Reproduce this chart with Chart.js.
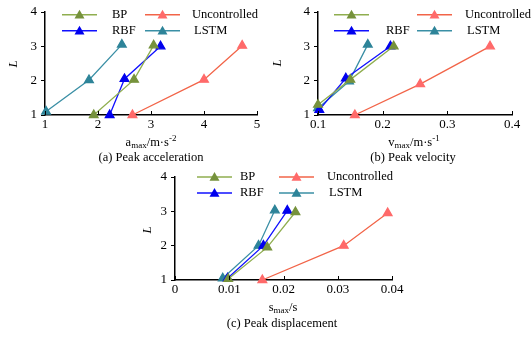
<!DOCTYPE html>
<html>
<head>
<meta charset="utf-8">
<script src="https://cdn.jsdelivr.net/npm/chart.js@4.4.1/dist/chart.umd.min.js"></script>
<style>
  html,body{margin:0;padding:0;background:#fff;}
  body{width:531px;height:337px;position:relative;overflow:hidden;font-family:'Liberation Serif','Times New Roman',serif;color:#000;}
  canvas{position:absolute;}
  .lbl{position:absolute;font-size:12.5px;white-space:nowrap;transform:translate(-50%,-50%);line-height:1;}
  .lbl sub{font-size:9px;vertical-align:-2px;}
  .lbl sup{font-size:9px;vertical-align:5px;}
  .ytitle{position:absolute;font-size:13px;font-style:italic;transform:translate(-50%,-50%) rotate(-90deg);}
</style>
</head>
<body>
<canvas id="accChart" style="left:0;top:0" width="265" height="140"></canvas>
<canvas id="velChart" style="left:265px;top:0" width="266" height="140"></canvas>
<canvas id="dispChart" style="left:130px;top:165px" width="282" height="140"></canvas>

<div class="ytitle" style="left:13px;top:64px">L</div>
<div class="ytitle" style="left:277px;top:63px">L</div>
<div class="ytitle" style="left:147px;top:230px">L</div>

<div class="lbl" style="left:151px;top:142px">a<sub>max</sub>/m·s<sup>-2</sup></div>
<div class="lbl" style="left:151px;top:157px">(a) Peak acceleration</div>
<div class="lbl" style="left:414px;top:142px">v<sub>max</sub>/m·s<sup>-1</sup></div>
<div class="lbl" style="left:413px;top:157px">(b) Peak velocity</div>
<div class="lbl" style="left:283px;top:308px">s<sub>max</sub>/s</div>
<div class="lbl" style="left:282px;top:323px">(c) Peak displacement</div>

<script>
// series names, legend text per chart (BP label is missing in panel b)
const SERIES = ['BP', 'RBF', 'Uncontrolled', 'LSTM'];
const LEGEND_B = ['', 'RBF', 'Uncontrolled', 'LSTM'];
const L_TICKS = [1, 2, 3, 4];

// (a) peak acceleration [a_max, L]
const accBP   = [[1.92, 1.0], [2.68, 2.03], [3.05, 3.03]];
const accRBF  = [[2.22, 1.0], [2.50, 2.05], [3.18, 3.0]];
const accUnc  = [[2.65, 1.0], [4.00, 2.03], [4.72, 3.02]];
const accLSTM = [[1.02, 1.1], [1.83, 2.02], [2.45, 3.05]];

// (b) peak velocity [v_max, L]
const velBP   = [[0.100, 1.3], [0.150, 2.03], [0.217, 3.0]];
const velRBF  = [[0.102, 1.15], [0.143, 2.07], [0.212, 3.0]];
const velUnc  = [[0.157, 1.0], [0.258, 1.9], [0.366, 3.0]];
const velLSTM = [[0.100, 1.2], [0.148, 1.98], [0.177, 3.05]];

// (c) peak displacement [s_max, L]
const dispBP   = [[0.0098, 1.03], [0.0170, 1.95], [0.0222, 2.98]];
const dispRBF  = [[0.0097, 1.05], [0.0163, 2.0], [0.0207, 3.02]];
const dispUnc  = [[0.0161, 1.0], [0.0311, 2.0], [0.0392, 2.95]];
const dispLSTM = [[0.0088, 1.05], [0.0154, 2.0], [0.0184, 3.03]];

const STYLE = {
  BP:           {line: '#8fae4f', point: '#76923c'},
  RBF:          {line: '#1010ff', point: '#0000ee'},
  Uncontrolled: {line: '#f26448', point: '#ff6a6a'},
  LSTM:         {line: '#3a8fa5', point: '#2e8499'},
};
const FAMILY = "'Liberation Serif','Times New Roman',serif";
const TICK_FONT = {family: FAMILY, size: 13};
const LEGEND_SIZE = 12.5;

function makeDatasets(groups){
  return groups.map((pts, i) => {
    const s = STYLE[SERIES[i]];
    return {
      label: SERIES[i],
      data: pts.map(([x, y]) => ({x, y})),
      borderColor: s.line, backgroundColor: s.point,
      pointBackgroundColor: s.point, pointBorderColor: s.point,
      pointStyle: 'triangle', pointRadius: 5, borderWidth: 1.3,
      tension: 0, clip: false,
    };
  });
}

// legend drawn by hand: line + triangle + text
const handLegend = {
  id: 'handLegend',
  afterDraw(chart, args, opts){
    const ctx = chart.ctx;
    ctx.save();
    chart.data.datasets.forEach((ds, i) => {
      const p = opts.pos[i];
      ctx.strokeStyle = ds.borderColor; ctx.lineWidth = 1.5;
      ctx.beginPath(); ctx.moveTo(p.lx, p.y); ctx.lineTo(p.lx + 35, p.y); ctx.stroke();
      const cx = p.lx + 17.5, r = 5;
      ctx.fillStyle = ds.pointBackgroundColor;
      ctx.beginPath();
      ctx.moveTo(cx, p.y - r); ctx.lineTo(cx + r, p.y + r * 0.75); ctx.lineTo(cx - r, p.y + r * 0.75);
      ctx.closePath(); ctx.fill();
      ctx.fillStyle = '#000';
      ctx.font = `${LEGEND_SIZE}px ${FAMILY}`;
      ctx.textBaseline = 'middle'; ctx.textAlign = 'left';
      ctx.fillText(opts.labels[i], p.tx, p.y);
    });
    ctx.restore();
  }
};

// small inward tick marks on the x axis
const xTicksUp = {
  id: 'xTicksUp',
  afterDraw(chart){
    const sc = chart.scales.x, ctx = chart.ctx, b = chart.chartArea.bottom;
    ctx.save();
    ctx.strokeStyle = '#000'; ctx.lineWidth = 1;
    sc.ticks.forEach((t, i) => {
      const x = Math.round(sc.getPixelForTick(i)) + 0.5;
      ctx.beginPath(); ctx.moveTo(x, b); ctx.lineTo(x, b - 4); ctx.stroke();
    });
    ctx.restore();
  }
};

function makeChart(id, groups, xr, pad, legendPos, legendLabels){
  return new Chart(document.getElementById(id), {
    type: 'line',
    data: {datasets: makeDatasets(groups)},
    options: {
      responsive: false, animation: false,
      layout: {padding: pad},
      plugins: {
        legend: {display: false}, tooltip: {enabled: false},
        handLegend: {pos: legendPos, labels: legendLabels},
      },
      scales: {
        x: {
          type: 'linear', min: xr.min, max: xr.max,
          afterFit: s => { s.height = 25; },
          ticks: {stepSize: xr.step, color: '#000', font: TICK_FONT, padding: 2, maxRotation: 0,
                  callback: v => +v.toFixed(3)},
          grid: {drawOnChartArea: false, drawTicks: false},
          border: {display: true, color: '#000', width: 1.5},
        },
        y: {
          type: 'linear', min: L_TICKS[0], max: L_TICKS[L_TICKS.length - 1],
          afterFit: s => { s.width = 45; },
          afterBuildTicks: s => { s.ticks = L_TICKS.map(v => ({value: v})); },
          ticks: {color: '#000', font: TICK_FONT, padding: 4},
          grid: {drawOnChartArea: false, drawTicks: true, tickLength: 4, color: '#000'},
          border: {display: true, color: '#000', width: 1.5},
        }
      }
    },
    plugins: [handLegend, xTicksUp]
  });
}

makeChart('accChart', [accBP, accRBF, accUnc, accLSTM],
  {min: 1, max: 5, step: 1},
  {left: 0, top: 12, right: 8, bottom: 0},
  [{lx: 62, y: 14.7, tx: 112}, {lx: 62, y: 30.7, tx: 112},
   {lx: 145, y: 14.7, tx: 192}, {lx: 145, y: 30.7, tx: 194}],
  SERIES);

makeChart('velChart', [velBP, velRBF, velUnc, velLSTM],
  {min: 0.1, max: 0.4, step: 0.1},
  {left: 8, top: 12, right: 19, bottom: 0},
  [{lx: 69, y: 14.7, tx: 121}, {lx: 69, y: 30.7, tx: 121},
   {lx: 152, y: 14.7, tx: 200}, {lx: 152, y: 30.7, tx: 202}],
  LEGEND_B);

makeChart('dispChart', [dispBP, dispRBF, dispUnc, dispLSTM],
  {min: 0, max: 0.04, step: 0.01},
  {left: 0, top: 12, right: 20, bottom: 0},
  [{lx: 67, y: 12, tx: 110}, {lx: 67, y: 28, tx: 110},
   {lx: 149, y: 12, tx: 197}, {lx: 149, y: 28, tx: 199}],
  SERIES);
</script>
</body>
</html>
